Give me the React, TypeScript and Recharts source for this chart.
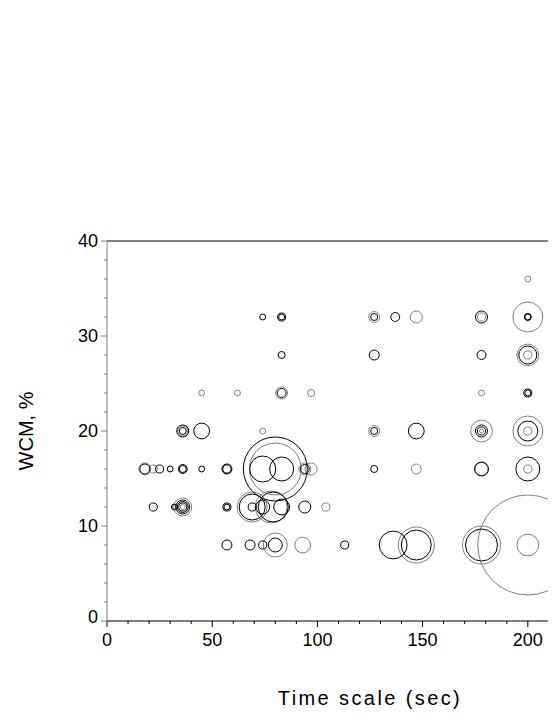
import React from "react";
import { ScatterChart, Scatter, XAxis, YAxis, ZAxis, ReferenceLine, Label } from "recharts";

const FONT = "'Liberation Sans', Arial, sans-serif";
const GRAY = "#808080";

const X_TICKS = [0, 10, 20, 30, 40, 50, 60, 70, 80, 90, 100, 110, 120, 130, 140, 150, 160, 170, 180, 190, 200, 210, 220, 230, 240, 250];
const Y_TICKS = [0, 2, 4, 6, 8, 10, 12, 14, 16, 18, 20, 22, 24, 26, 28, 30, 32, 34, 36, 38, 40];

// x = time scale (sec), y = WCM %, z = bubble weight (area)
const blackBubbles = [
  { x: 74, y: 32, z: 1.4 }, { x: 83, y: 32, z: 1.4 }, { x: 83, y: 32, z: 2.6 },
  { x: 127, y: 32, z: 2 }, { x: 137, y: 32, z: 3.2 }, { x: 178, y: 32, z: 5.8 },
  { x: 200, y: 32, z: 2 }, { x: 200, y: 32, z: 1.4 },
  { x: 83, y: 28, z: 2 }, { x: 127, y: 28, z: 4 }, { x: 178, y: 28, z: 3.2 }, { x: 200, y: 28, z: 13 },
  { x: 83, y: 24, z: 3.2 }, { x: 200, y: 24, z: 2.6 }, { x: 200, y: 24, z: 1.4 },
  { x: 36, y: 20, z: 5.8 }, { x: 36, y: 20, z: 2 }, { x: 45, y: 20, z: 10 }, { x: 127, y: 20, z: 2 },
  { x: 147, y: 20, z: 10 }, { x: 178, y: 20, z: 5.8 }, { x: 178, y: 20, z: 2.6 }, { x: 200, y: 20, z: 16 },
  { x: 18, y: 16, z: 4 }, { x: 25, y: 16, z: 2.6 }, { x: 30, y: 16, z: 1.4 }, { x: 36, y: 16, z: 3.2 },
  { x: 36, y: 16, z: 2 }, { x: 45, y: 16, z: 1.4 }, { x: 57, y: 16, z: 4 }, { x: 57, y: 16, z: 2.6 },
  { x: 80, y: 16, z: 164 }, { x: 74, y: 16, z: 27 }, { x: 83, y: 16, z: 23 }, { x: 94, y: 16, z: 3.2 },
  { x: 127, y: 16, z: 2 }, { x: 178, y: 16, z: 7.8 }, { x: 200, y: 16, z: 23 },
  { x: 22, y: 12, z: 2.6 }, { x: 32, y: 12, z: 1.4 }, { x: 36, y: 12, z: 7.8 }, { x: 36, y: 12, z: 4.8 },
  { x: 36, y: 12, z: 2.6 }, { x: 57, y: 12, z: 2.6 }, { x: 57, y: 12, z: 1.4 }, { x: 69, y: 12, z: 27 },
  { x: 69, y: 12, z: 2.6 }, { x: 79, y: 12, z: 36 }, { x: 74, y: 12, z: 7.8 }, { x: 83, y: 12, z: 10 },
  { x: 94, y: 12, z: 5.8 },
  { x: 57, y: 8, z: 4 }, { x: 68, y: 8, z: 4 }, { x: 74, y: 8, z: 2.6 }, { x: 80, y: 8, z: 7.8 },
  { x: 113, y: 8, z: 2.6 }, { x: 136, y: 8, z: 31 }, { x: 147, y: 8, z: 36 }, { x: 178, y: 8, z: 41 },
];

const grayBubbles = [
  { x: 200, y: 36, z: 1.4 },
  { x: 127, y: 32, z: 4.8 }, { x: 147, y: 32, z: 5.8 }, { x: 178, y: 32, z: 2.6 }, { x: 200, y: 32, z: 36 },
  { x: 200, y: 28, z: 19 }, { x: 200, y: 28, z: 2.6 },
  { x: 45, y: 24, z: 1.4 }, { x: 62, y: 24, z: 1.4 }, { x: 83, y: 24, z: 5.8 }, { x: 97, y: 24, z: 2 },
  { x: 178, y: 24, z: 1.4 },
  { x: 36, y: 20, z: 4 }, { x: 74, y: 20, z: 1.4 }, { x: 127, y: 20, z: 4.8 }, { x: 178, y: 20, z: 19 },
  { x: 178, y: 20, z: 0.6 }, { x: 200, y: 20, z: 36 }, { x: 200, y: 20, z: 2.6 },
  { x: 18, y: 16, z: 5.8 }, { x: 22, y: 16, z: 2.6 }, { x: 80, y: 16, z: 108 }, { x: 94, y: 16, z: 5.8 },
  { x: 97, y: 16, z: 5.8 }, { x: 147, y: 16, z: 4 }, { x: 178, y: 16, z: 6.8 }, { x: 200, y: 16, z: 2.6 },
  { x: 32, y: 12, z: 0.6 }, { x: 36, y: 12, z: 13 }, { x: 36, y: 12, z: 1 }, { x: 69, y: 12, z: 36 },
  { x: 78, y: 12, z: 41 }, { x: 104, y: 12, z: 2.6 },
  { x: 80, y: 8, z: 23 }, { x: 93, y: 8, z: 10 }, { x: 147, y: 8, z: 52 }, { x: 178, y: 8, z: 58 },
  { x: 200, y: 8, z: 400 }, { x: 200, y: 8, z: 19 }, { x: 218, y: 8, z: 19 },
];

function ring(color: string) {
  return (p: any) => {
    const r = p.width != null ? p.width / 2 : Math.sqrt((p.size ?? 0) / Math.PI);
    return <circle cx={p.cx} cy={p.cy} r={r} fill="none" stroke={color} strokeWidth={1} />;
  };
}

function YTick({ x, y, payload }: any) {
  const v = payload.value;
  const major = v % 10 === 0;
  return (
    <g>
      <line x1={x - (major ? 6 : 3)} x2={x} y1={y} y2={y} stroke={GRAY} />
      {major && (
        <text x={x - 9} y={y} dy={v === 0 ? "0.1em" : "0.36em"} textAnchor="end" fontSize={18} fontFamily={FONT} fill="#000">
          {v}
        </text>
      )}
    </g>
  );
}

function XTick({ x, y, payload }: any) {
  const v = payload.value;
  const major = v % 50 === 0;
  return (
    <g>
      <line x1={x} x2={x} y1={y} y2={y + (major ? 6 : 3)} stroke="#000" />
      {major && (
        <text x={x} y={y + 12} dy="0.71em" textAnchor="middle" fontSize={18} fontFamily={FONT} fill="#000">
          {v}
        </text>
      )}
    </g>
  );
}

function YTitle({ viewBox }: any) {
  const cx = (viewBox?.x ?? 0) + 18;
  const cy = (viewBox?.y ?? 233) + (viewBox?.height ?? 380) / 2;
  return (
    <text x={cx} y={cy} transform={`rotate(-90 ${cx} ${cy})`} dy="0.36em" textAnchor="middle"
      fontSize={20} fontFamily={FONT} fill="#000">
      WCM, %
    </text>
  );
}

function XTitle({ viewBox }: any) {
  const cx = (viewBox?.x ?? 99) + (viewBox?.width ?? 526) / 2;
  const by = (viewBox?.y ?? 613) + (viewBox?.height ?? 91) - 7;
  return (
    <text x={cx} y={by} textAnchor="middle" fontSize={20} letterSpacing={2.4} fontFamily={FONT} fill="#000">
      Time scale (sec)
    </text>
  );
}

export default function App() {
  return (
    <div style={{ width: 548, height: 704, overflow: "hidden", background: "#fff" }}>
      <ScatterChart width={660} height={704} margin={{ top: 233, right: 35, bottom: 0, left: 0 }}>
        <XAxis
          type="number" dataKey="x" domain={[0, 250]} ticks={X_TICKS} interval={0}
          height={91} tickSize={0} tickMargin={0} tick={<XTick />}
          axisLine={{ stroke: "#000" }} tickLine={false}
        >
          <Label content={<XTitle />} />
        </XAxis>
        <YAxis
          type="number" dataKey="y" domain={[0, 40]} ticks={Y_TICKS} interval={0}
          width={99} tickSize={0} tickMargin={0} tick={<YTick />}
          axisLine={{ stroke: GRAY }} tickLine={false}
        >
          <Label content={<YTitle />} />
        </YAxis>
        <ZAxis type="number" dataKey="z" domain={[0, 400]} range={[0, 7854]} />
        <ReferenceLine y={40} stroke="#000" />
        <ReferenceLine x={250} stroke="#000" />
        <Scatter data={grayBubbles} shape={ring(GRAY)} isAnimationActive={false} />
        <Scatter data={blackBubbles} shape={ring("#000")} isAnimationActive={false} />
      </ScatterChart>
    </div>
  );
}
